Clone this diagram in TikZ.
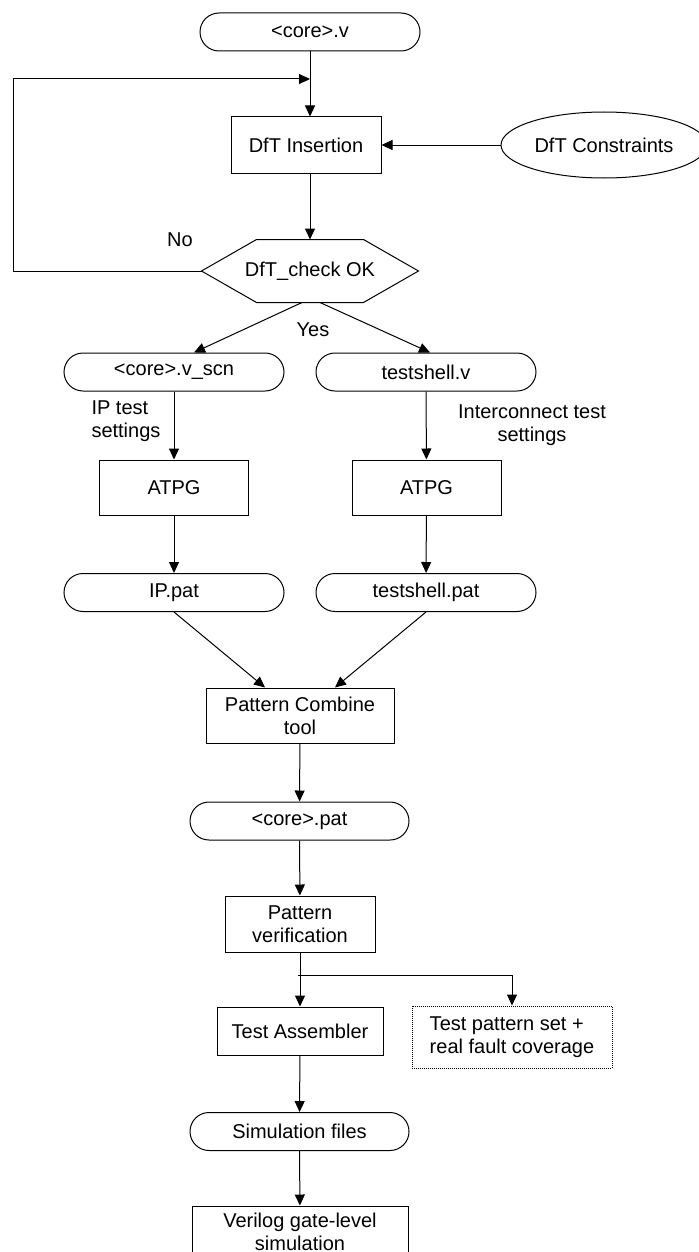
\documentclass[tikz,border=0pt]{standalone}
\usepackage{fontspec}
\setmainfont{Liberation Sans}
\usetikzlibrary{arrows.meta,shapes.geometric}

\begin{document}
\begin{tikzpicture}[x=0.5pt,y=-0.5pt,line width=0.5pt,
	every node/.style={font=\fontsize{10}{11.5}\selectfont},
	file/.style={draw=black,rounded corners=9.5pt,minimum width=110pt,minimum height=19pt,inner sep=0pt},
	proc/.style={draw=black,align=center,inner sep=0pt},
	arr/.style={-{Triangle[length=5.5pt,width=5pt]}}]
	\clip (0,0) rectangle (699,1252);
	\node[file] (corev) at (310, 32)     {<core>.v};
	\node[proc,minimum width=75pt,minimum height=28pt] (ins) at (306, 145)     {DfT Insertion};
	\node[draw=black,ellipse,minimum width=103pt,minimum height=33pt,inner sep=0pt] (cons) at (604, 145)     {DfT Constraints};
	\node[minimum width=108pt,minimum height=31pt,inner sep=0pt] (chk) at (310, 271)     {DfT\_check OK};
	\draw (chk.west) -- ([xshift=27.5pt]chk.north west) -- ([xshift=-27.5pt]chk.north east) -- (chk.east)
		-- ([xshift=-27.5pt]chk.south east) -- ([xshift=27.5pt]chk.south west) -- cycle;
	\node[file] (scn) at (174, 372)     {<core>.v\_scn};
	\node[file] (shv) at (426, 372)     {testshell.v};
	\node[proc,minimum width=74.5pt,minimum height=27.5pt] (atpga) at (174, 487.5)     {ATPG};
	\node[proc,minimum width=74.5pt,minimum height=27.5pt] (atpgb) at (426.5, 487.5)     {ATPG};
	\node[file] (ippat) at (174, 592.5)     {IP.pat};
	\node[file] (shpat) at (426, 592.5)     {testshell.pat};
	\node[proc,minimum width=94pt,minimum height=27.5pt] (comb) at (300, 715.5)     {Pattern Combine\\tool};
	\node[file,minimum width=109.5pt] (corepat) at (299.5, 821)     {<core>.pat};
	\node[proc,minimum width=75pt,minimum height=28pt] (verif) at (300, 924)     {Pattern\\verification};
	\node[proc,minimum width=83pt,minimum height=24pt] (asm) at (300, 1031)     {Test Assembler};
	\node[proc,align=left,dash pattern=on 0.5pt off 0.5pt,minimum width=100pt,minimum height=31pt] (cov) at (512, 1037)     {Test pattern set +\\real fault coverage};
	\node[file,minimum width=109.5pt] (simf) at (299.5, 1131.5)     {Simulation files};
	\node[proc,minimum width=108pt,minimum height=26pt] (veri) at (300, 1232)     {Verilog gate-level\\simulation};
	% labels
	\node (no) at (180, 240)     {No};
	\node (yes) at (313, 330)     {Yes};
	\node[anchor=west,align=left,inner sep=0pt] (ipset) at (91, 421)     {IP test\\settings};
	\node[align=center,inner sep=0pt] (icset) at (532, 425)     {Interconnect test\\settings};
	\coordinate (jn) at (310, 79);
	\coordinate (lp) at (13, 79);
	\coordinate (br) at (298, 975);
	% connectors
	\path (corev) edge[arr] (corev |- ins.north);
	\draw[arr] (chk.west) -| (lp) -- (jn);
	\path (cons) edge[arr] (ins);
	\path (ins.south -| chk) edge[arr] (chk.north);
	\path ([xshift=-4pt]chk.south) edge[arr] ([xshift=10pt]scn.north);
	\path ([xshift=5pt]chk.south) edge[arr] ([xshift=2pt]shv.north);
	\path (scn) edge[arr] (atpga);
	\path (atpga) edge[arr] (ippat);
	\path (shv) edge[arr] (atpgb);
	\path (atpgb) edge[arr] (shpat);
	\path (ippat.south) edge[arr] ([xshift=-17.5pt]comb.north);
	\path (shpat.south) edge[arr] ([xshift=17.5pt]comb.north);
	\path (comb) edge[arr] (corepat);
	\path (corepat) edge[arr] (verif);
	\path (verif) edge[arr] (asm);
	\draw[arr] (br) -| (cov.north);
	\path (asm) edge[arr] (simf);
	\path (simf) edge[arr] (veri);
\end{tikzpicture}
\end{document}
